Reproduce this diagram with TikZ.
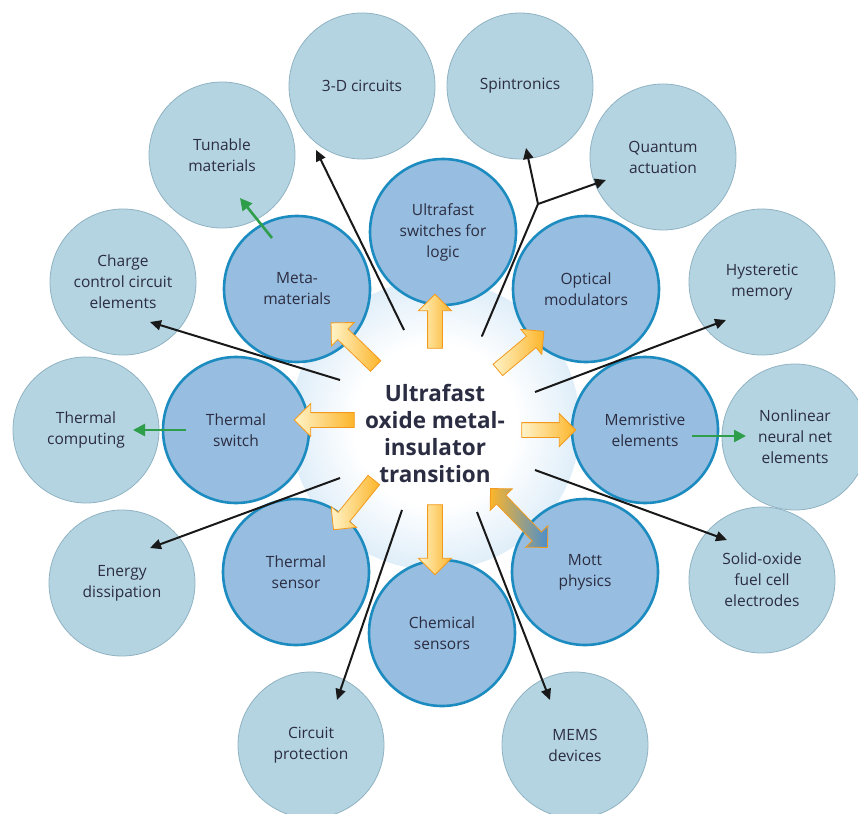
\documentclass[tikz,border=0pt]{standalone}
\usepackage{fontspec}
\setmainfont{Open Sans}
\usetikzlibrary{shapes.arrows,arrows.meta,calc}
\definecolor{innerfill}{HTML}{97BDE0}
\definecolor{innerdraw}{HTML}{1C8CC0}
\definecolor{outerfill}{HTML}{B5D4E1}
\definecolor{outerdraw}{HTML}{8FB2C2}
\definecolor{txt}{HTML}{2B2D42}
\definecolor{glowblue}{HTML}{CBE3F5}
\definecolor{arrgreen}{HTML}{2E9E4A}
\definecolor{yhead}{HTML}{FCB52A}
\definecolor{ytail}{HTML}{FFF3C8}
\definecolor{yedge}{HTML}{F39A1E}
\definecolor{mottblue}{HTML}{4B8ECD}
\pgfdeclareradialshading{glow}{\pgfpoint{0bp}{0bp}}{color(0bp)=(white); color(14bp)=(white); color(32bp)=(glowblue); color(50bp)=(white)}
\begin{document}
\begin{tikzpicture}[x=1pt,y=-1pt,
  lbl/.style={align=center, text=txt, font=\fontsize{15.5}{21}\selectfont},
  innerc/.style={lbl, circle, minimum size=146pt, inner sep=0pt, fill=innerfill, draw=innerdraw, line width=2.6pt},
  outerc/.style={lbl, circle, minimum size=146pt, inner sep=0pt, fill=outerfill, draw=outerdraw, line width=0.8pt},
  blkline/.style={draw=black!90, line width=2pt},
  blk/.style={blkline, -{Triangle[length=11pt,width=10pt]}},
  grn/.style={draw=arrgreen, line width=2.6pt, -{Triangle[length=12pt,width=12pt]}},
  yarr/.style={single arrow, draw=yedge, line width=0.8pt, left color=ytail, right color=yhead, inner xsep=0pt, inner ysep=7pt, minimum width=32pt, single arrow head extend=9pt, single arrow head indent=0pt},
  darr/.style={double arrow, draw=yedge, line width=0.8pt, left color=yhead, middle color=yhead!85!white, right color=mottblue, inner xsep=0pt, inner ysep=6pt, minimum width=30pt, double arrow head extend=9pt}
]
\useasboundingbox (0,0) rectangle (858,813);
\coordinate (c0) at (435,425);
\shade[shading=glow] (c0) circle (145pt);

% outer circles
\node[outerc] (o3D) at (362,86) {3-D circuits};
\node[outerc] (oSp) at (520,86) {Spintronics};
\node[outerc] (oTu) at (222,155) {Tunable\\materials};
\node[outerc] (oQu) at (663,157) {Quantum\\actuation};
\node[outerc] (oCh) at (123,282) {Charge\\control circuit\\elements};
\node[outerc] (oHy) at (762,282) {Hysteretic\\memory};
\node[outerc] (oTh) at (86,430) {Thermal\\computing};
\node[outerc] (oNo) at (795,437) {Nonlinear\\neural net\\elements};
\node[outerc] (oEn) at (122,583) {Energy\\dissipation};
\node[outerc] (oSo) at (762,580) {Solid-oxide\\fuel cell\\electrodes};
\node[outerc] (oCi) at (311,745) {Circuit\\protection};
\node[outerc] (oME) at (575,745) {MEMS\\devices};

% inner circles
\node[innerc] (iU) at (443,232) {Ultrafast\\switches for\\logic};
\node[innerc] (iO) at (586,289) {Optical\\modulators};
\node[innerc] (iM) at (297,289) {Meta-\\materials};
\node[innerc] (iTS) at (236,430) {Thermal\\switch};
\node[innerc] (iMe) at (645,430) {Memristive\\elements};
\node[innerc] (iTSe) at (296,572) {Thermal\\sensor};
\node[innerc] (iC) at (442,633) {Chemical\\sensors};
\node[innerc] (iMo) at (585,572) {Mott\\physics};

% black connectors
\coordinate (s1) at (404,330); \coordinate (e1) at (316,150);
\coordinate (s2) at (482,336); \coordinate (f2) at (538,204);
\coordinate (e2a) at (526,148); \coordinate (e2b) at (606,180);
\coordinate (s3) at (340,380); \coordinate (e3) at (150,322);
\coordinate (s4) at (535,392); \coordinate (e4) at (726,320);
\coordinate (s5) at (340,478); \coordinate (e5) at (150,548);
\coordinate (s6) at (535,470); \coordinate (e6) at (727,540);
\coordinate (s7) at (402,510); \coordinate (e7) at (337,700);
\coordinate (s8) at (477,512); \coordinate (e8) at (550,700);
\draw[blk] (s1) -- (e1);
\draw[blkline, line cap=round] (s2) -- (f2);
\draw[blk] (f2) -- (e2a);
\draw[blk] (f2) -- (e2b);
\draw[blk] (s3) -- (e3);
\draw[blk] (s4) -- (e4);
\draw[blk] (s5) -- (e5);
\draw[blk] (s6) -- (e6);
\draw[blk] (s7) -- (e7);
\draw[blk] (s8) -- (e8);

% green connectors
\coordinate (g1s) at (272,238); \coordinate (g1e) at (240,198);
\coordinate (g2s) at (186,430); \coordinate (g2e) at (133,430);
\coordinate (g3s) at (692,436); \coordinate (g3e) at (746,436);
\draw[grn] (g1s) -- (g1e);
\draw[grn] (g2s) -- (g2e);
\draw[grn] (g3s) -- (g3e);

% yellow arrows
\node[yarr, minimum height=54pt, rotate=90] (yU) at (435,325) {};
\node[yarr, minimum height=62pt, rotate=136] (yUL) at (356,347) {};
\node[yarr, minimum height=60pt, rotate=40] (yUR) at (518,353) {};
\node[yarr, minimum height=60pt, rotate=180] (yL) at (328,420) {};
\node[yarr, minimum height=54pt, rotate=0] (yR) at (545,430) {};
\node[yarr, minimum height=64pt, rotate=231] (yLL) at (356,502) {};
\node[yarr, minimum height=70pt, rotate=270] (yD) at (435,536) {};
\node[darr, minimum height=82pt, rotate=-46] (yLR) at (519,518) {};

% centre
\node[align=center, text=txt, font=\fontsize{22.5}{27}\selectfont\bfseries] (c) at (435,433) {Ultrafast\\oxide metal-\\insulator\\transition};
\end{tikzpicture}
\end{document}
